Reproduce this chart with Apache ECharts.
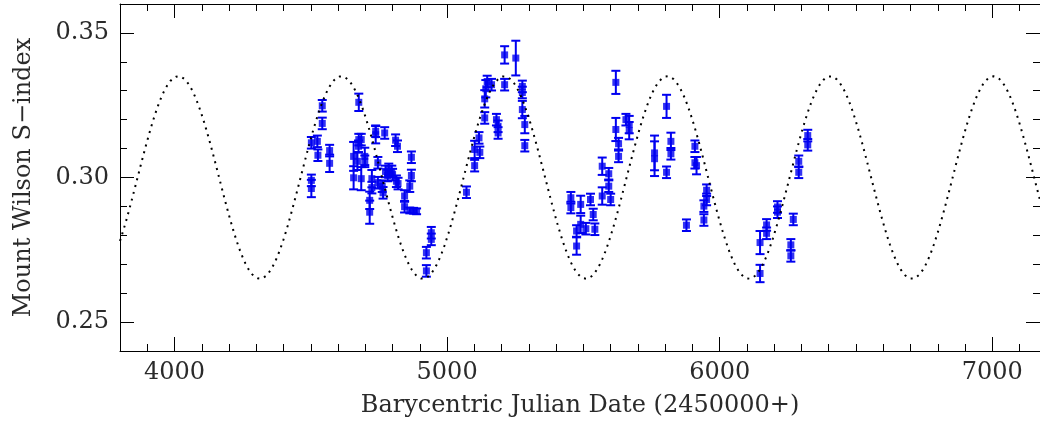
<!DOCTYPE html>
<html>
<head>
<meta charset="utf-8">
<script src="https://cdn.jsdelivr.net/npm/echarts@6/dist/echarts.min.js"></script>
<style>
  html, body { margin: 0; padding: 0; background: #fff; }
  #chart { width: 1040px; height: 425px; }
</style>
</head>
<body>
<div id="chart"></div>
<script>
// Barycentric Julian Date minus 2450000
const bjd = [
  4502, 4502, 4502, 4524, 4526, 4542, 4542, 4569, 4569, 4657,
  4657, 4676, 4676, 4685, 4675, 4671, 4685, 4698, 4698, 4716,
  4716, 4724, 4724, 4738, 4738, 4746, 4746, 4762, 4765, 4771,
  4774, 4786, 4797, 4800, 4782, 4811, 4818, 4814, 4820, 4844,
  4844, 4863, 4877, 4888, 4869, 4869, 4863, 4942, 4942, 4924,
  4924, 5071, 5101, 5101, 5117, 5120, 5138, 5138, 5142, 5147,
  5163, 5181, 5187, 5187, 5211, 5211, 5252, 5276, 5276, 5276,
  5285, 5285, 5454, 5454, 5475, 5475, 5490, 5490, 5509, 5526,
  5536, 5542, 5569, 5569, 5593, 5593, 5600, 5619, 5619, 5629,
  5629, 5656, 5668, 5668, 5761, 5761, 5805, 5805, 5821, 5821,
  5909, 5909, 5915, 5878, 5952, 5952, 5942, 5942, 6148, 6148,
  6172, 6172, 6212, 6212, 6270, 6261, 6261, 6290, 6290, 6323,
  6323
];
// Mount Wilson S-index
const sIndex = [
  0.3120, 0.2990, 0.2962, 0.3125, 0.3077, 0.3248, 0.3187, 0.3093, 0.3049, 0.3073,
  0.2999, 0.3260, 0.3131, 0.3131, 0.3108, 0.3056, 0.2996, 0.3073, 0.3056, 0.2921,
  0.2880, 0.2996, 0.2965, 0.3160, 0.3148, 0.3051, 0.2982, 0.2970, 0.2947, 0.3154,
  0.3021, 0.3028, 0.3021, 0.3010, 0.3007, 0.3129, 0.3108, 0.2987, 0.2979, 0.2936,
  0.2899, 0.2886, 0.2885, 0.2883, 0.3070, 0.3007, 0.2970, 0.2809, 0.2786, 0.2740,
  0.2677, 0.2949, 0.3097, 0.3041, 0.3137, 0.3087, 0.3206, 0.3272, 0.3307, 0.3332,
  0.3321, 0.3200, 0.3177, 0.3154, 0.3424, 0.3321, 0.3413, 0.3315, 0.3294, 0.3235,
  0.3183, 0.3110, 0.2930, 0.2896, 0.2815, 0.2763, 0.2907, 0.2838, 0.2823, 0.2924,
  0.2872, 0.2821, 0.3039, 0.2936, 0.3013, 0.2970, 0.2924, 0.3329, 0.3166, 0.3117,
  0.3073, 0.3200, 0.3183, 0.3162, 0.3085, 0.3065, 0.3246, 0.3018, 0.3125, 0.3082,
  0.3108, 0.3051, 0.3041, 0.2835, 0.2956, 0.2924, 0.2901, 0.2853, 0.2775, 0.2668,
  0.2836, 0.2807, 0.2898, 0.2880, 0.2855, 0.2767, 0.2729, 0.3056, 0.3018, 0.3145,
  0.3113
];
// 1-sigma errors
const sErr = [
  0.002, 0.002, 0.003, 0.002, 0.002, 0.002, 0.002, 0.002, 0.003, 0.005,
  0.004, 0.003, 0.002, 0.002, 0.002, 0.003, 0.004, 0.003, 0.002, 0.003,
  0.004, 0.003, 0.002, 0.002, 0.003, 0.002, 0.002, 0.002, 0.002, 0.002,
  0.002, 0.002, 0.002, 0.002, 0.002, 0.002, 0.002, 0.002, 0.002, 0.002,
  0.002, 0.001, 0.001, 0.001, 0.002, 0.002, 0.002, 0.002, 0.002, 0.002,
  0.002, 0.002, 0.003, 0.002, 0.002, 0.002, 0.002, 0.003, 0.003, 0.002,
  0.002, 0.002, 0.002, 0.002, 0.003, 0.002, 0.006, 0.002, 0.002, 0.003,
  0.003, 0.002, 0.002, 0.002, 0.002, 0.003, 0.003, 0.003, 0.002, 0.002,
  0.002, 0.002, 0.003, 0.003, 0.002, 0.002, 0.002, 0.004, 0.004, 0.002,
  0.002, 0.002, 0.003, 0.003, 0.006, 0.006, 0.004, 0.002, 0.003, 0.002,
  0.002, 0.002, 0.003, 0.002, 0.002, 0.002, 0.002, 0.002, 0.004, 0.003,
  0.002, 0.002, 0.002, 0.002, 0.002, 0.002, 0.002, 0.002, 0.002, 0.002,
  0.002
];

// sine model fitted to the cycle (dotted curve)
const modelMean = 0.30;
const modelAmp = 0.035;
const modelPeriod = 598;
const modelPeak = 4612;

const xMajor = [4000, 5000, 6000, 7000];
const yMajor = [0.25, 0.30, 0.35];
const xMin = 3800, xMax = 7175;
const yMin = 0.24, yMax = 0.36;

const BLUE = '#0000f0';
const FONT = 'DejaVu Serif';
const TXT = '#2a2a2a';

const points = bjd.map((t, i) => [t, sIndex[i], sErr[i]]);
const model = [];
for (let t = xMin; t <= xMax; t += 5) {
  model.push([t, modelMean + modelAmp * Math.cos(2 * Math.PI * (t - modelPeak) / modelPeriod)]);
}

function renderErr(params, api) {
  const x = api.value(0), y = api.value(1), e = api.value(2);
  const hi = api.coord([x, y + e]);
  const lo = api.coord([x, y - e]);
  const w = 4.5;
  const st = { stroke: BLUE, lineWidth: 2 };
  return {
    type: 'group',
    children: [
      { type: 'line', shape: { x1: hi[0], y1: hi[1], x2: lo[0], y2: lo[1] }, style: st },
      { type: 'line', shape: { x1: hi[0] - w, y1: hi[1], x2: hi[0] + w, y2: hi[1] }, style: st },
      { type: 'line', shape: { x1: lo[0] - w, y1: lo[1], x2: lo[0] + w, y2: lo[1] }, style: st }
    ]
  };
}

const lineStyle = { color: '#000', width: 1 };

function xAxis(pos, major, labels) {
  const a = {
    type: 'value', position: pos, min: xMin, max: xMax,
    splitLine: { show: false },
    axisLine: { show: !major, onZero: false, lineStyle: lineStyle },
    axisTick: { inside: true, length: major ? 14 : 7, lineStyle: lineStyle },
    axisLabel: { show: false }
  };
  if (major) {
    a.axisTick.customValues = xMajor;
  } else {
    a.interval = 100;
  }
  if (labels) {
    a.axisLabel = {
      show: true, customValues: xMajor, margin: 10,
      formatter: v => String(v),
      color: TXT, fontFamily: FONT, fontSize: 24
    };
    a.name = 'Barycentric Julian Date (2450000+)';
    a.nameLocation = 'middle';
    a.nameGap = 43;
    a.nameTextStyle = { color: TXT, fontFamily: FONT, fontSize: 24 };
  }
  return a;
}

function yAxis(pos, major, labels) {
  const a = {
    type: 'value', position: pos, min: yMin, max: yMax,
    splitLine: { show: false },
    axisLine: { show: !major, onZero: false, lineStyle: lineStyle },
    axisTick: { inside: true, length: major ? 14 : 7, lineStyle: lineStyle },
    axisLabel: { show: false }
  };
  if (major) {
    a.axisTick.customValues = yMajor;
  } else {
    a.interval = 0.01;
  }
  if (labels) {
    a.axisLabel = {
      show: true, customValues: yMajor, margin: 11,
      formatter: v => v.toFixed(2),
      color: TXT, fontFamily: FONT, fontSize: 24
    };
    a.name = 'Mount Wilson S\u2212index';
    a.nameLocation = 'middle';
    a.nameGap = 84;
    a.nameTextStyle = { color: TXT, fontFamily: FONT, fontSize: 24 };
  }
  return a;
}

const chart = echarts.init(document.getElementById('chart'), null, { renderer: 'canvas' });
chart.setOption({
  animation: false,
  backgroundColor: '#fff',
  grid: { left: 120, right: 0, top: 4, bottom: 74 },
  xAxis: [
    xAxis('bottom', false, false),
    xAxis('bottom', true, true),
    xAxis('top', false, false),
    xAxis('top', true, false)
  ],
  yAxis: [
    yAxis('left', false, false),
    yAxis('left', true, true),
    yAxis('right', false, false),
    yAxis('right', true, false)
  ],
  series: [
    {
      type: 'line',
      data: model,
      showSymbol: false,
      silent: true,
      lineStyle: { color: '#000', width: 2, type: [2, 5] }
    },
    {
      type: 'custom',
      data: points,
      renderItem: renderErr,
      encode: { x: 0, y: [1, 2] },
      silent: true
    },
    {
      type: 'scatter',
      data: points.map(p => [p[0], p[1]]),
      symbol: 'rect',
      symbolSize: 7,
      itemStyle: { color: BLUE },
      silent: true
    }
  ]
});
</script>
</body>
</html>
